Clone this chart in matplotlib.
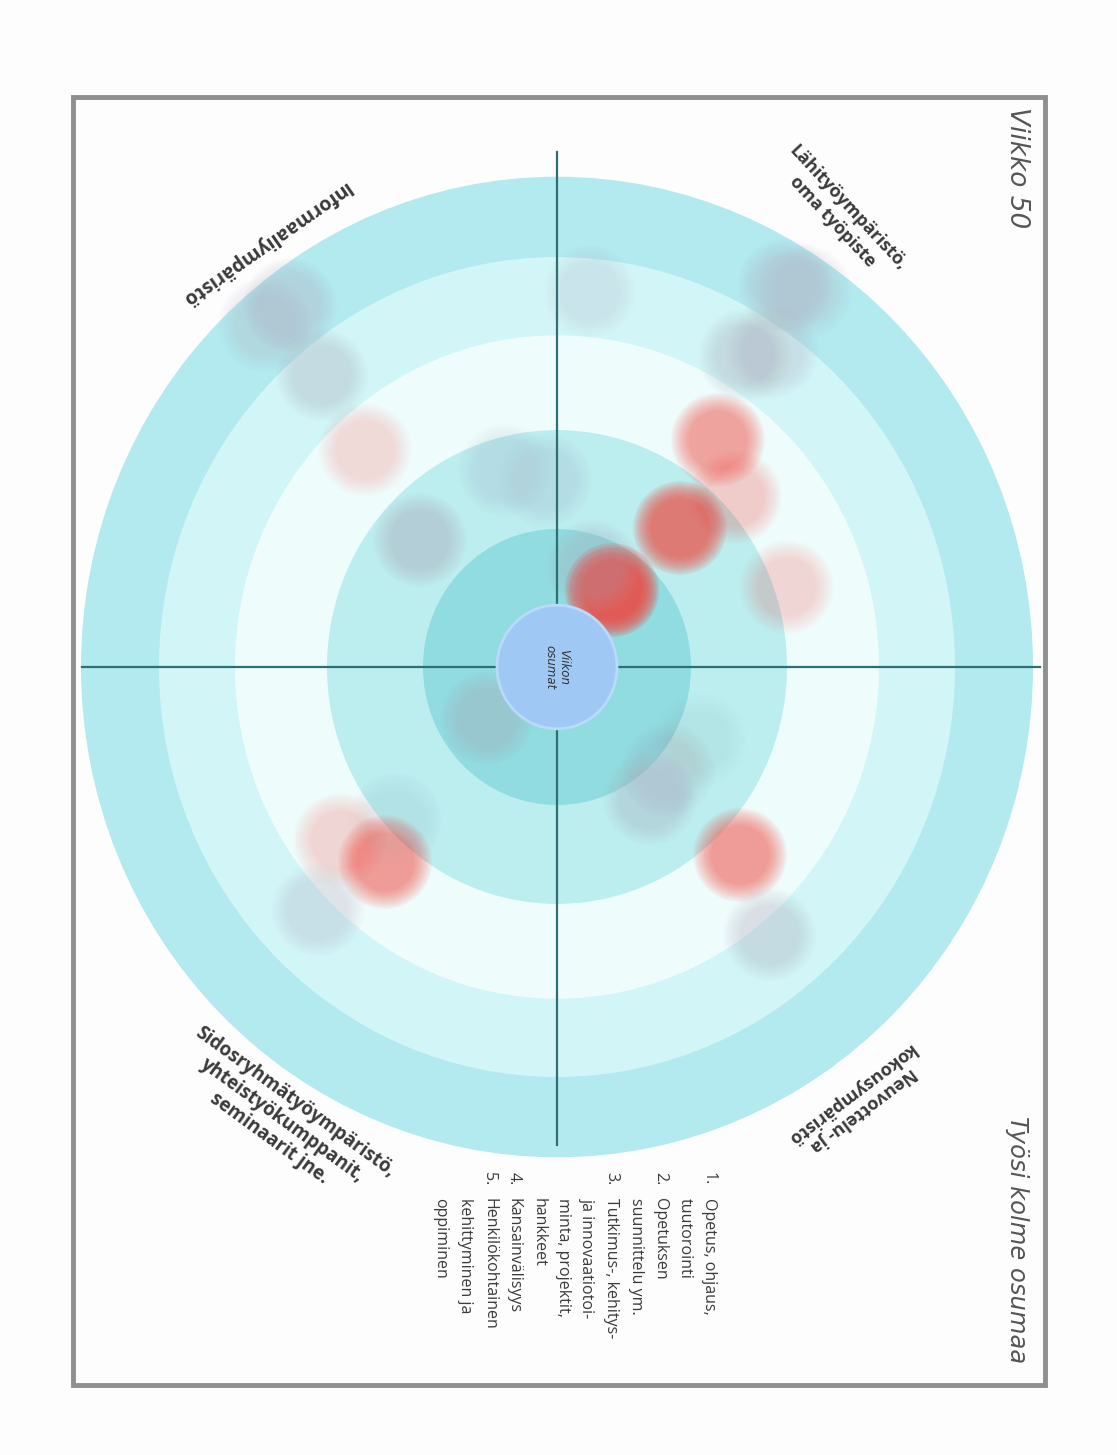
import matplotlib.pyplot as plt
from matplotlib.patches import Ellipse, Rectangle
import numpy as np

# target rings, outer edge radius (px) and fill, outermost first
ring_radius = [476, 398, 322, 230, 134, 60]
ring_color = ['#b2eaf0', '#d2f6f8', '#effcfc', '#bcedef', '#90dce0', '#a0c8f5']
ring_yscale = 1.03   # the scan is a bit stretched vertically

# hits: offsets from target centre (px, y up), kind and how strong the mark is
hit_x = [55, 123, 161, 178, 230, 183, -172, -217, -192,
         36, 188, 215, 228, 248, 33, -267, -292, -235, -137, -52, -12,
         -70, 93, 111, 143, 213, -239, -162]
hit_y = [77, 139, 227, 170, 80, -188, -195, -173, 217,
         100, 312, 315, 382, 375, 375, 362, 342, 292, 127, 197, 187,
         -51, -131, -103, -73, -268, -243, -153]
hit_kind = ['red'] * 9 + ['gray'] * 19
hit_level = [1.0, 0.6, 0.35, 0.15, 0.12, 0.4, 0.4, 0.12, 0.1,
             0.3, 0.3, 0.25, 0.3, 0.2, 0.15, 0.3, 0.2, 0.3, 0.45, 0.15, 0.15,
             0.35, 0.3, 0.2, 0.1, 0.3, 0.25, 0.12]

quadrant_labels = ['Lähityöympäristö,\noma työpiste',
                   'Informaaliympäristö',
                   'Neuvottelu- ja\nkokousympäristö',
                   'Sidosryhmätyöympäristö,\nyhteistyökumppanit,\nseminaarit jne.']
list_numbers = ['1.', '', '2.', '', '3.', '', '', '', '4.', '5.', '', '']
list_lines = ['Opetus, ohjaus,', 'tuutorointi', 'Opetuksen', 'suunnittelu ym.',
              'Tutkimus-, kehitys-', 'ja innovaatiotoi-', 'minta, projektit,',
              'hankkeet', 'Kansainvälisyys', 'Henkilökohtainen',
              'kehittyminen ja', 'oppiminen']

W, H = 1117, 1455
cx, cy = 557, 667

fig = plt.figure(figsize=(W / 100, H / 100), dpi=100)
fig.patch.set_facecolor('#fdfdfd')
ax = fig.add_axes([0, 0, 1, 1])
ax.set_xlim(-cx, W - cx)
ax.set_ylim(cy - H, cy)
ax.axis('off')

# frame
ax.add_patch(Rectangle((73 - cx, cy - 1385), 972, 1288, fill=False,
                       edgecolor='#8f8f8f', lw=3.5, zorder=1))

for r, c in zip(ring_radius, ring_color):
    ax.add_patch(Ellipse((0, 0), 2 * r, 2 * r * ring_yscale, facecolor=c,
                         edgecolor='none', zorder=2))

# soft blurry hits
for x, y, k, s in zip(hit_x, hit_y, hit_kind, hit_level):
    col = '#f04a42' if k == 'red' else '#b0aabb'
    a = 0.2 * s if k == 'red' else 0.13 * s
    for i in range(9):
        rr = 36 * (1.3 - 0.06 * i)
        ax.add_patch(Ellipse((x, y), 2 * rr, 2 * rr, facecolor=col,
                             edgecolor='none', alpha=min(1, a), zorder=3))

# cross lines
line_c = '#2f6e72'
r0 = ring_radius[-1]
ax.plot([82 - cx, -r0], [0, 0], color=line_c, lw=1.6, zorder=4)
ax.plot([r0, 1040 - cx], [0, 0], color=line_c, lw=1.6, zorder=4)
ax.plot([0, 0], [r0 * ring_yscale, cy - 152], color=line_c, lw=1.6, zorder=4)
ax.plot([0, 0], [-r0 * ring_yscale, cy - 1145], color=line_c, lw=1.6, zorder=4)

# centre disc on top of lines
ax.add_patch(Ellipse((0, 0), 2 * r0, 2 * r0 * ring_yscale,
                     facecolor=ring_color[-1], edgecolor='#b9daf8', lw=2, zorder=5))
ax.text(0, 0, 'Viikon\nosumat', rotation=-90, ha='center', va='center',
        fontsize=8.5, style='italic', color='#333333', zorder=6,
        family='DejaVu Sans', linespacing=1.1)

txt_c = '#3a3a3a'
ax.text(460, cy - 168, 'Viikko 50', rotation=-90, ha='center', va='center',
        fontsize=19, style='italic', color='#555555', family='DejaVu Sans')
ax.text(460, cy - 1240, 'Työsi kolme osumaa', rotation=-90, ha='center', va='center',
        fontsize=17.5, style='italic', color='#555555', family='DejaVu Sans')

label_pos = [(283, 452), (-292, 424), (300, -435), (-275, -453)]
label_rot = [-47, 215, 217, -36]
label_size = [13, 14, 13, 13.5]
for lab, (x, y), rot, fs in zip(quadrant_labels, label_pos, label_rot, label_size):
    ax.text(x, y, lab, rotation=rot, ha='center', va='center', fontsize=fs,
            fontweight='bold', color=txt_c, family='Open Sans',
            rotation_mode='anchor', linespacing=1.15)

ax.text(717 - cx, cy - 1172, '\n'.join(list_numbers), rotation=-90, ha='left', va='top',
        rotation_mode='anchor', fontsize=11.5, color=txt_c, family='Open Sans',
        linespacing=1.7)
ax.text(717 - cx, cy - 1198, '\n'.join(list_lines), rotation=-90, ha='left', va='top',
        rotation_mode='anchor', fontsize=11.5, color=txt_c, family='Open Sans',
        linespacing=1.7)

fig.savefig('out.png', dpi=100, facecolor=fig.get_facecolor())
